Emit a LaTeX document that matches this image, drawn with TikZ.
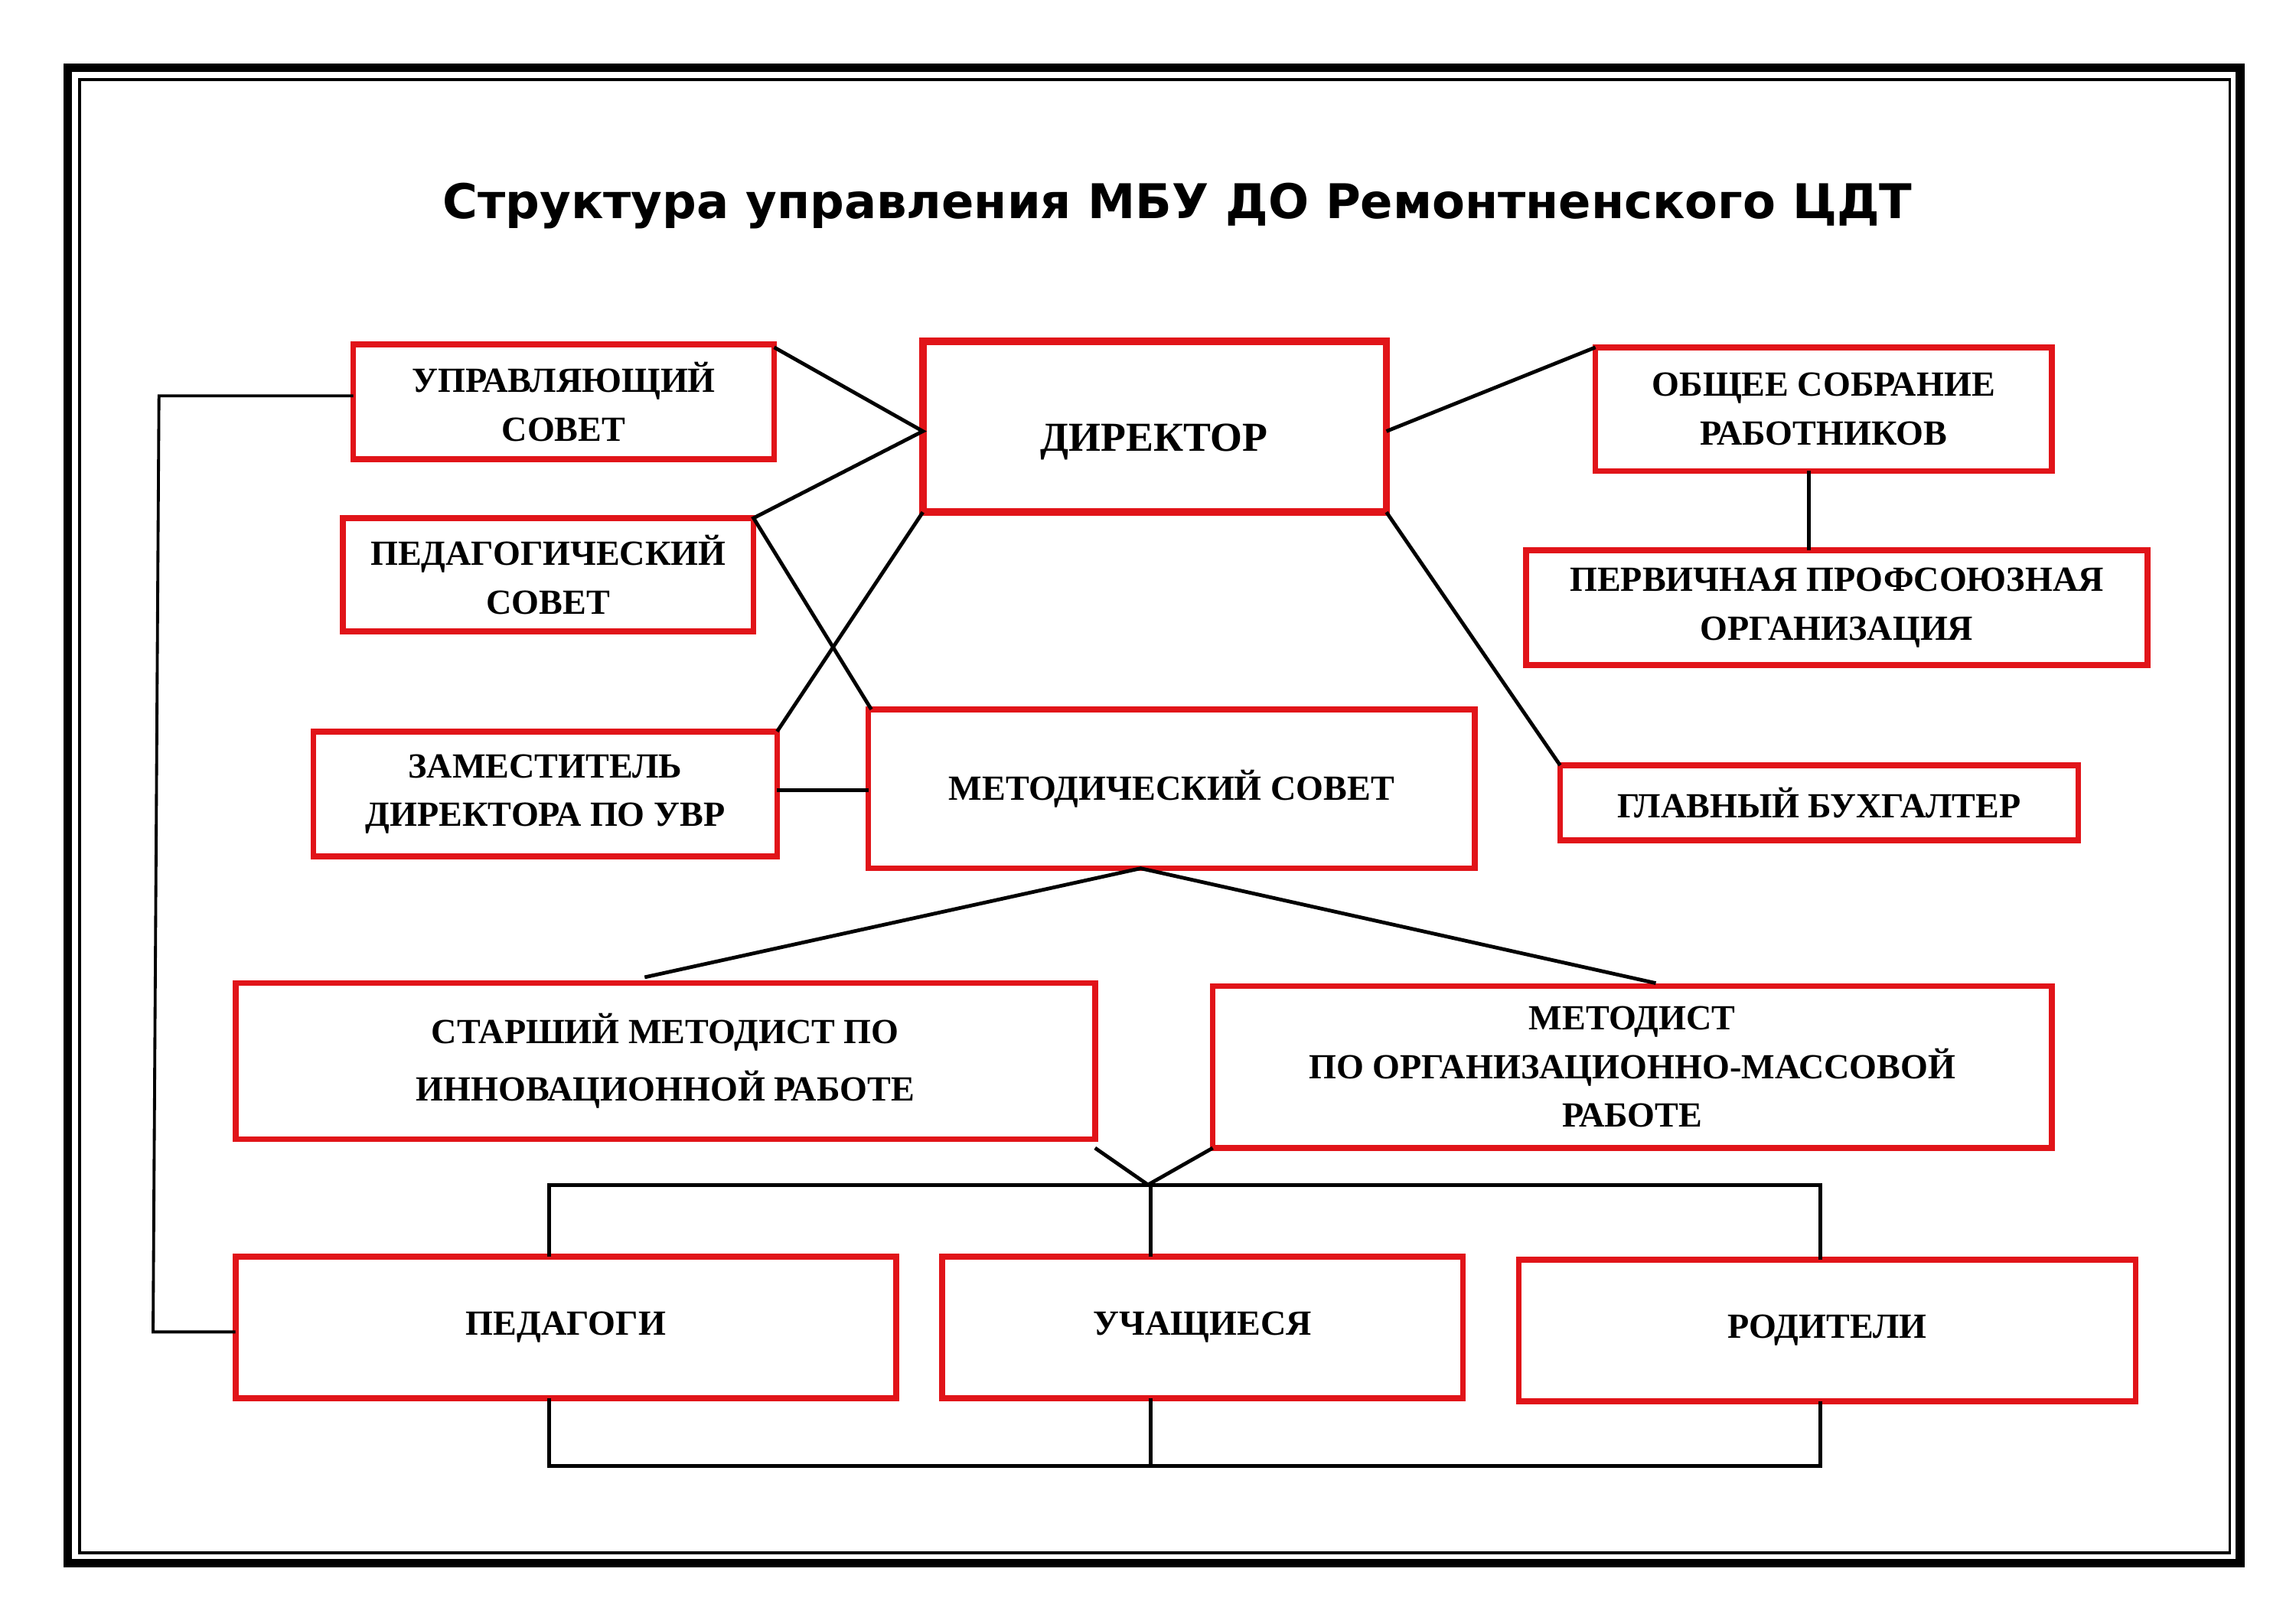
\documentclass[tikz,border=0pt]{standalone}
\usepackage{fontspec}
\setmainfont{Liberation Serif}
\newfontfamily\titlefont{DejaVu Sans}
\definecolor{bred}{RGB}{225,20,25}
\begin{document}
\begin{tikzpicture}[x=1pt,y=-1pt,
 bx/.style={draw=bred,line width=4pt},
 tx/.style={font=\fontsize{24}{33}\selectfont\bfseries,align=center},
 ln/.style={line width=2.5pt,black}]
\useasboundingbox (0,0) rectangle (1560,1103);
\draw[line width=6pt] (46,46) rectangle (1522,1062);
\draw[line width=2pt] (54,54) rectangle (1515,1055);
\node[font=\titlefont\fontsize{32.5}{36}\selectfont\bfseries] (title) at (800,140) {Структура управления МБУ ДО Ремонтненского ЦДТ};
\newcommand\bbox[6]{\draw[bx] (#2,#3) rectangle (#4,#5); \node[tx] (#1) at ({(#2+#4)/2},{(#3+#5)/2}) {#6};
 \coordinate (#1nw) at (#2,#3); \coordinate (#1se) at (#4,#5);}
\bbox{us}{240}{234}{526}{312}{УПРАВЛЯЮЩИЙ\\СОВЕТ}
\draw[bx,line width=5pt] (627,232) rectangle (942,348); \node[tx,font=\fontsize{28}{33}\selectfont\bfseries] (dir) at (784,300) {ДИРЕКТОР};
\bbox{os}{1084}{236}{1394}{320}{ОБЩЕЕ СОБРАНИЕ\\РАБОТНИКОВ}
\bbox{ps}{233}{352}{512}{429}{ПЕДАГОГИЧЕСКИЙ\\СОВЕТ}
\bbox{pp}{1037}{374}{1459}{452}{ПЕРВИЧНАЯ ПРОФСОЮЗНАЯ\\ОРГАНИЗАЦИЯ}
\bbox{zam}{213}{497}{528}{582}{ЗАМЕСТИТЕЛЬ\\ДИРЕКТОРА ПО УВР}
\bbox{ms}{590}{482}{1002}{590}{МЕТОДИЧЕСКИЙ СОВЕТ}
\bbox{gb}{1060}{520}{1412}{571}{ГЛАВНЫЙ БУХГАЛТЕР}
\bbox{sm}{160}{668}{744}{774}{СТАРШИЙ МЕТОДИСТ ПО\\[6pt]ИННОВАЦИОННОЙ РАБОТЕ}
\bbox{me}{824}{670}{1394}{780}{МЕТОДИСТ\\ПО ОРГАНИЗАЦИОННО-МАССОВОЙ\\РАБОТЕ}
\bbox{pg}{160}{854}{609}{950}{ПЕДАГОГИ}
\bbox{uc}{640}{854}{994}{950}{УЧАЩИЕСЯ}
\bbox{ro}{1032}{856}{1451}{952}{РОДИТЕЛИ}
\draw[ln] (526,236) -- (627,293) -- (512,352) -- (592,482);
\draw[ln] (528,497) -- (627,348);
\draw[ln] (528,537) -- (590,537);
\draw[ln] (942,293) -- (1084,236);
\draw[ln] (942,348) -- (1060,520);
\draw[ln] (1229,320) -- (1229,374);
\draw[ln] (438,664) -- (775,590) -- (1125,668);
\draw[ln] (744,780) -- (780,805) -- (824,780);
\draw[ln] (373,854) -- (373,805) -- (1237,805) -- (1237,856);
\draw[ln] (782,805) -- (782,854);
\draw[ln] (373,950) -- (373,996) -- (1237,996) -- (1237,952);
\draw[ln] (782,950) -- (782,996);
\draw[line width=2pt] (240,269) -- (108,269) -- (104,905) -- (160,905);
\end{tikzpicture}
\end{document}
